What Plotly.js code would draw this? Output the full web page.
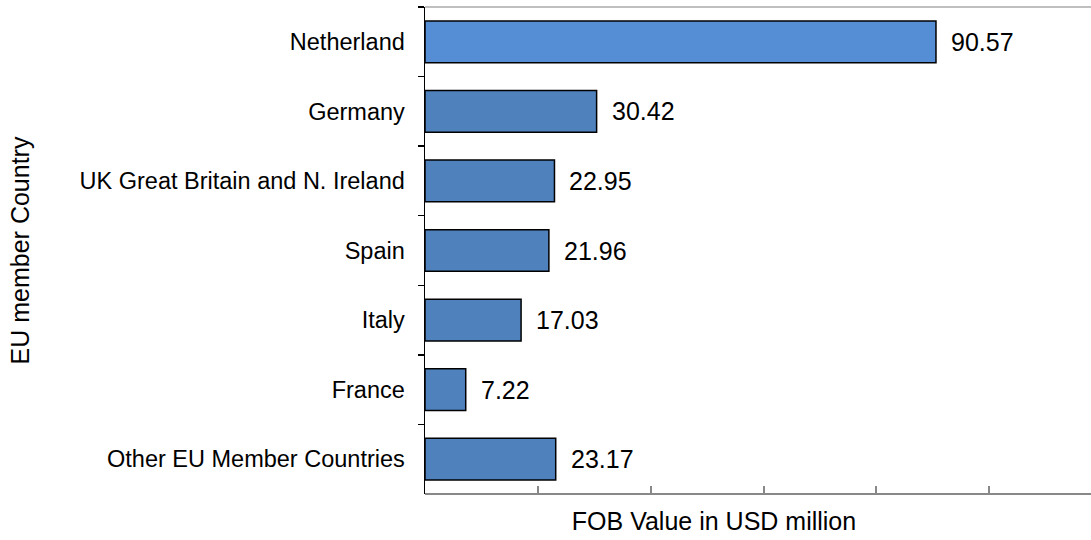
<!DOCTYPE html>
<html>
<head>
<meta charset="utf-8">
<script src="https://cdn.plot.ly/plotly-3.0.1.min.js"></script>
<style>html,body{margin:0;padding:0;background:#fff;}#chart{width:1091px;height:540px;}</style>
</head>
<body>
<div id="chart"></div>
<script>
const countries = ["Netherland", "Germany", "UK Great Britain and N. Ireland", "Spain", "Italy", "France", "Other EU Member Countries"];
const fobValues = [90.57, 30.42, 22.95, 21.96, 17.03, 7.22, 23.17];
const valueLabels = ["90.57", "30.42", "22.95", "21.96", "17.03", "7.22", "23.17"];
const barColors = ["#558ED5", "#4F81BD", "#4F81BD", "#4F81BD", "#4F81BD", "#4F81BD", "#4F81BD"];
const xTicks = [0, 20, 40, 60, 80, 100];

const font = "'Liberation Sans', Arial, sans-serif";

const trace = {
  type: "bar",
  orientation: "h",
  x: fobValues,
  y: countries,
  width: 0.6,
  marker: { color: barColors, line: { color: "#000000", width: 1.5 } },
  hoverinfo: "x+y"
};

const annotations = fobValues.map((v, i) => ({
  x: v, y: countries[i], xref: "x", yref: "y",
  text: valueLabels[i], showarrow: false,
  xanchor: "left", xshift: 13,
  font: { family: font, size: 25, color: "#000" }
}));

const plotLeft = 425, plotRight = 1003, figW = 1091;
const ext = (figW - plotLeft) / (plotRight - plotLeft);

const layout = {
  width: 1091, height: 540,
  margin: { l: plotLeft, r: figW - plotRight, t: 7, b: 46 },
  paper_bgcolor: "#fff", plot_bgcolor: "#fff",
  showlegend: false,
  font: { family: font, color: "#000" },
  xaxis: {
    range: [0, 102.45],
    tickvals: xTicks,
    showticklabels: false,
    ticks: "inside", ticklen: 8, tickwidth: 2, tickcolor: "#888",
    showgrid: false, zeroline: false,
    showline: false,
    title: { text: "FOB Value in USD million", font: { family: font, size: 25, color: "#000" }, standoff: 18 }
  },
  yaxis: {
    type: "category",
    categoryorder: "array",
    categoryarray: countries,
    autorange: "reversed",
    tickson: "boundaries",
    ticks: "outside", ticklen: 6, tickwidth: 1.5, tickcolor: "#000",
    ticklabelstandoff: 14,
    tickfont: { family: font, size: 23.5, color: "#000" },
    showgrid: false, zeroline: false,
    showline: true, linecolor: "#000", linewidth: 1.5,
    title: { text: "EU member Country", font: { family: font, size: 25, color: "#000" }, standoff: 43 }
  },
  shapes: [
    { type: "line", xref: "paper", yref: "paper", x0: 0, x1: ext, y0: 1, y1: 1,
      line: { color: "#BFBFBF", width: 2 } },
    { type: "line", xref: "paper", yref: "paper", x0: 0, x1: ext, y0: 0, y1: 0,
      line: { color: "#888", width: 2 } }
  ],
  annotations: annotations
};

Plotly.newPlot("chart", [trace], layout, { displayModeBar: false, staticPlot: true });
</script>
</body>
</html>
